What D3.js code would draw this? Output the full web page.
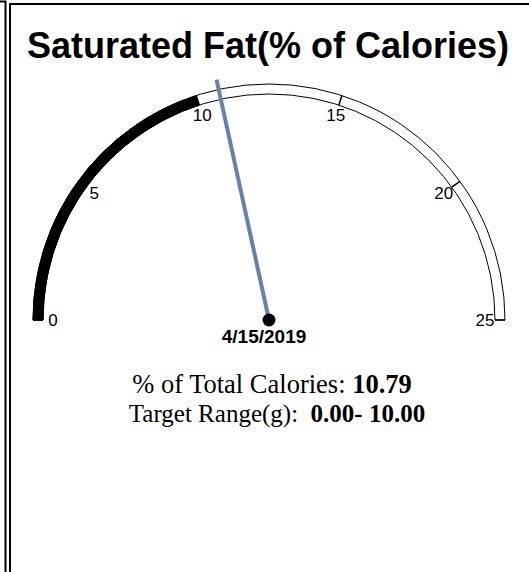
<!DOCTYPE html>
<html>
<head>
<meta charset="utf-8">
<script src="https://cdn.jsdelivr.net/npm/d3@7"></script>
<style>
  body { margin: 0; background: #fff; }
  .font_a { font-family: Arial, "Liberation Sans", sans-serif; }
  .font_s { font-family: "Times New Roman", "Liberation Serif", serif; }
</style>
</head>
<body>
<div id="GaugeDiv"></div>
<script>
window.addEventListener("load", plot);

// chart data
var title = "Saturated Fat(% of Calories)";
var gaugeDomain = [0, 25];
var tickValues = [0, 5, 10, 15, 20, 25];
var targetRange = [0.00, 10.00];
var currentValue = 10.79;
var dateLabel = "4/15/2019";
var infoLabels = ["% of Total Calories: ", "Target Range(g):\u00a0\u00a0"];

function getConfig(){
    let width = 529, height = 572;
    let gauge = {cx: 269, cy: 320, outer: 236, inner: 226, labelR: 215, needleR: 246, dotR: 6.5};
    gauge.needle_color = "#6682ab";
    return {width, height, gauge}
}

function plot(){
    let config = getConfig();
    let g0 = config.gauge;

    let svg = d3.select("#GaugeDiv")
                .append("svg")
                .attr("width", config.width)
                .attr("height", config.height)
                .style("background-color", "white")

    // panel borders (neighbouring panel edge + this panel)
    svg.append("path")
       .attr("d", "M0,1.5H5.5V" + config.height)
       .attr("fill", "none").attr("stroke", "black").attr("stroke-width", 2)
    svg.append("rect")
       .attr("x", 10).attr("y", 4)
       .attr("width", config.width + 10).attr("height", config.height + 10)
       .attr("fill", "none").attr("stroke", "black").attr("stroke-width", 2)

    svg.append("text")
       .attr("x", 268)
       .attr("y", 58)
       .attr("font-size", 36)
       .attr("font-weight", "bold")
       .attr("class", "font_a")
       .style("text-anchor", "middle")
       .text(title)

    // angle scale: 0 -> left, 25 -> right
    let aScale = d3.scaleLinear()
                   .domain(gaugeDomain)
                   .range([-Math.PI / 2, Math.PI / 2]);

    let g = svg.append("g")
               .attr("transform", `translate(${g0.cx},${g0.cy})`)

    let arc = d3.arc()
                .innerRadius(g0.inner)
                .outerRadius(g0.outer)

    // whole band, then the target range filled
    g.append("path")
     .attr("d", arc({startAngle: aScale(gaugeDomain[0]), endAngle: aScale(gaugeDomain[1])}))
     .attr("fill", "white")
     .attr("stroke", "black")
     .attr("stroke-width", 1)

    g.append("path")
     .attr("d", arc({startAngle: aScale(targetRange[0]), endAngle: aScale(targetRange[1])}))
     .attr("fill", "black")
     .attr("stroke", "black")
     .attr("stroke-width", 1)

    // tick marks across the band
    g.selectAll(".tick")
     .data(tickValues)
     .join("line")
     .attr("class", "tick")
     .attr("x1", d => g0.inner * Math.sin(aScale(d)))
     .attr("y1", d => -g0.inner * Math.cos(aScale(d)))
     .attr("x2", d => g0.outer * Math.sin(aScale(d)))
     .attr("y2", d => -g0.outer * Math.cos(aScale(d)))
     .attr("stroke", "black")
     .attr("stroke-width", 1.5)

    g.selectAll(".tick_label")
     .data(tickValues)
     .join("text")
     .attr("class", "tick_label font_a")
     .attr("x", d => (g0.labelR + 1) * Math.sin(aScale(d)))
     .attr("y", d => -(g0.labelR + 1) * Math.cos(aScale(d)))
     .attr("dy", "0.35em")
     .attr("font-size", 17)
     .style("text-anchor", "middle")
     .text(d => d)

    // needle
    let na = aScale(currentValue);
    g.append("line")
     .attr("x1", 0).attr("y1", 0)
     .attr("x2", g0.needleR * Math.sin(na))
     .attr("y2", -g0.needleR * Math.cos(na))
     .attr("stroke", g0.needle_color)
     .attr("stroke-width", 4)

    g.append("circle")
     .attr("r", g0.dotR)
     .attr("fill", "black")

    g.append("text")
     .attr("x", -5)
     .attr("y", 23)
     .attr("font-size", 19)
     .attr("font-weight", "bold")
     .attr("class", "font_a")
     .style("text-anchor", "middle")
     .text(dateLabel)

    // info text below
    let info = svg.append("text")
                  .attr("class", "font_s")
                  .style("text-anchor", "middle")
    let l1 = info.append("tspan").attr("x", 272).attr("y", 393).attr("font-size", 26.5)
    l1.append("tspan").text(infoLabels[0])
    l1.append("tspan").attr("font-weight", "bold").text(d3.format(".2f")(currentValue))

    let l2 = info.append("tspan").attr("x", 277).attr("y", 422).attr("font-size", 25)
    l2.append("tspan").text(infoLabels[1])
    l2.append("tspan").attr("font-weight", "bold")
      .text(d3.format(".2f")(targetRange[0]) + "- " + d3.format(".2f")(targetRange[1]))
}
</script>
</body>
</html>
